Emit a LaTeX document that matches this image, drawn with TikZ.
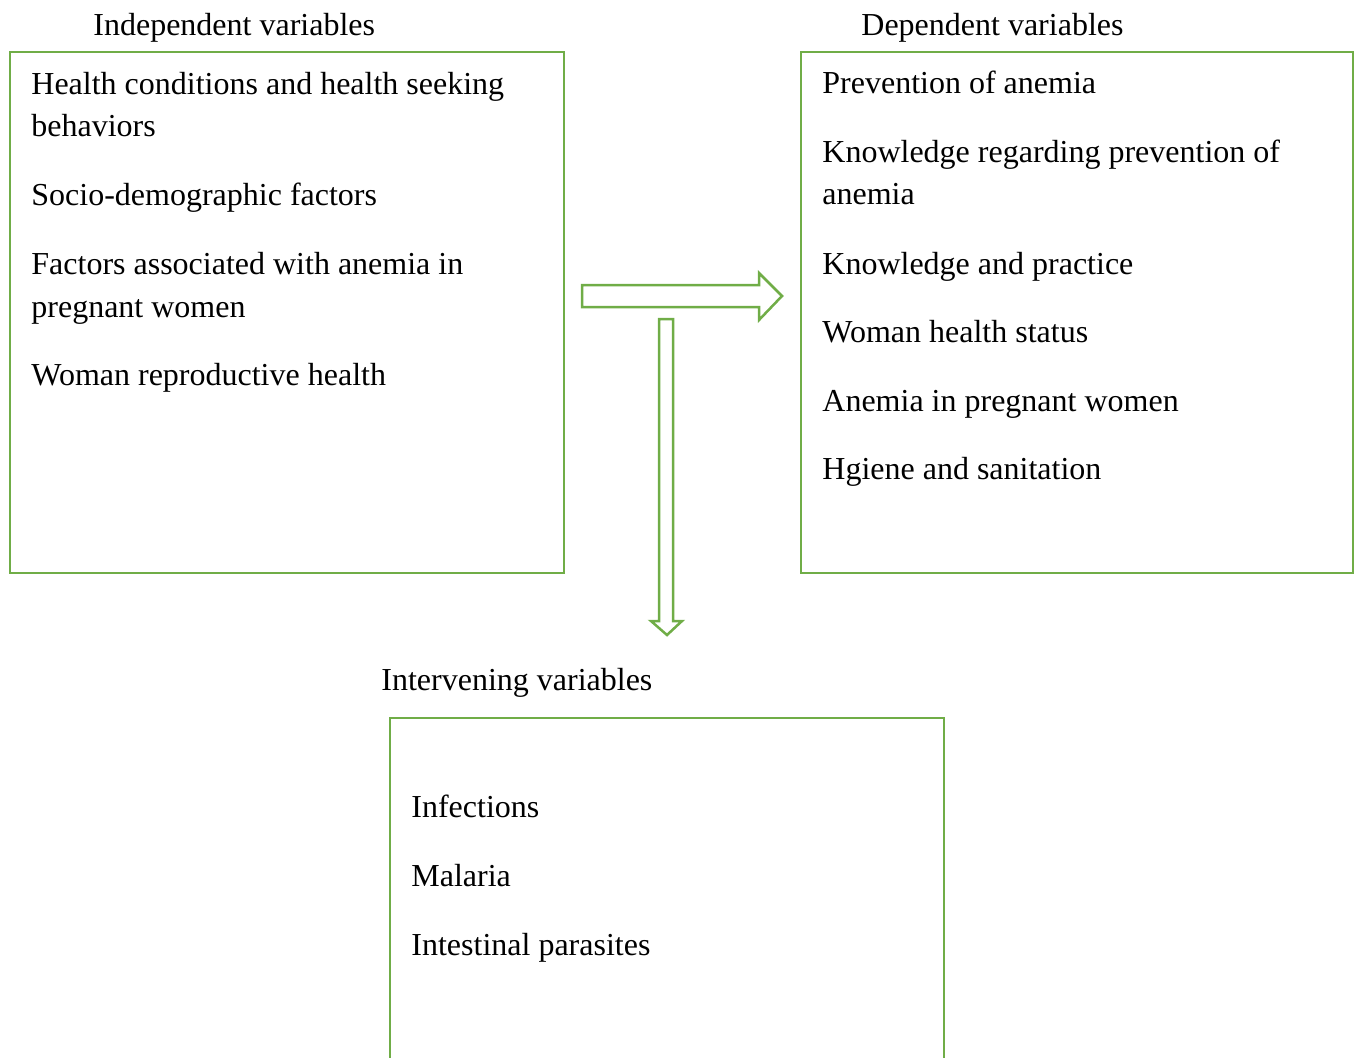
\documentclass[tikz,border=0pt]{standalone}
\usepackage{fontspec}
\setmainfont{Liberation Serif}
\definecolor{boxgreen}{HTML}{70AD47}
\tikzset{
  varbox/.style={draw=boxgreen, line width=1.25pt},
  blockarrow/.style={draw=boxgreen, line width=1.25pt, fill=white, line join=miter},
  itemtext/.style={anchor=base west, inner sep=0pt, font=\fontsize{16}{21}\selectfont}
}
\begin{document}
\begin{tikzpicture}[x=0.5pt, y=-0.5pt]
        \useasboundingbox (0,0) rectangle (1354,1057);
        % the three boxes
        \draw[varbox] (10,52) rectangle (564,573);
        \draw[varbox] (801,52) rectangle (1353,573);
        \draw[varbox] (390,1060) -- (390,718) -- (944,718) -- (944,1060);
        % titles
        \node[itemtext] (indep) at (93,35) {Independent variables};
        \node[itemtext] (dep) at (861,35) {Dependent variables};
        \node[itemtext] (interv) at (381,690) {Intervening variables};
        % independent variables
        \node[itemtext] (health1) at (31,94) {Health conditions and health seeking};
        \node[itemtext] (health2) at (31,136) {behaviors};
        \node[itemtext] (socio) at (31,205) {Socio-demographic factors};
        \node[itemtext] (factors1) at (31,274) {Factors associated with anemia in};
        \node[itemtext] (factors2) at (31,317) {pregnant women};
        \node[itemtext] (repro) at (31,385) {Woman reproductive health};
        % dependent variables
        \node[itemtext] (prev) at (822,93) {Prevention of anemia};
        \node[itemtext] (know1) at (822,162) {Knowledge regarding prevention of};
        \node[itemtext] (know2) at (822,204) {anemia};
        \node[itemtext] (practice) at (822,274) {Knowledge and practice};
        \node[itemtext] (status) at (822,342) {Woman health status};
        \node[itemtext] (pregnant) at (822,411) {Anemia in pregnant women};
        \node[itemtext] (hygiene) at (822,479) {Hgiene and sanitation};
        % intervening variables
        \node[itemtext] (infect) at (411,817) {Infections};
        \node[itemtext] (malaria) at (411,886) {Malaria};
        \node[itemtext] (parasites) at (411,955) {Intestinal parasites};
        % block arrows
        \draw[blockarrow] (582,285) -- (759,285) -- (759,273) -- (782,296)
            -- (759,320) -- (759,307) -- (582,307) -- cycle;
        \draw[blockarrow] (659,319) -- (673,319) -- (673,621) -- (682,621)
            -- (667,635) -- (651,621) -- (659,621) -- cycle;
\end{tikzpicture}
\end{document}
